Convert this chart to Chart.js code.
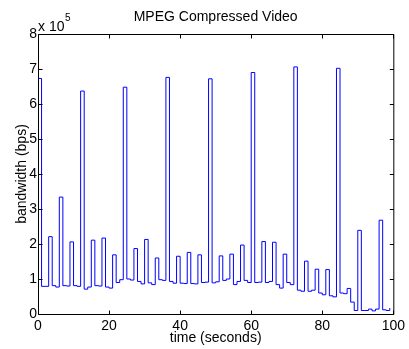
<!DOCTYPE html>
<html>
<head>
<meta charset="utf-8">
<script src="https://cdn.jsdelivr.net/npm/chart.js@4/dist/chart.umd.min.js"></script>
<style>
  html, body { margin: 0; padding: 0; background: #fff; }
  #wrap { width: 409px; height: 349px; }
</style>
</head>
<body>
<div id="wrap"><canvas id="mpeg-chart" width="409" height="349"></canvas></div>
<script>
// time of each sample (seconds)
var seconds = [
  0, 1, 2, 3, 4, 5, 6, 7, 8, 9,
  10, 11, 12, 13, 14, 15, 16, 17, 18, 19,
  20, 21, 22, 23, 24, 25, 26, 27, 28, 29,
  30, 31, 32, 33, 34, 35, 36, 37, 38, 39,
  40, 41, 42, 43, 44, 45, 46, 47, 48, 49,
  50, 51, 52, 53, 54, 55, 56, 57, 58, 59,
  60, 61, 62, 63, 64, 65, 66, 67, 68, 69,
  70, 71, 72, 73, 74, 75, 76, 77, 78, 79,
  80, 81, 82, 83, 84, 85, 86, 87, 88, 89,
  90, 91, 92, 93, 94, 95, 96, 97, 98, 99
];

// bandwidth in bps
var bandwidth = [
  673000, 79000, 79000, 221000, 81000, 77000, 334000, 81000, 80000, 206000,
  81000, 79000, 637000, 71000, 77000, 211000, 81000, 80000, 217000, 77000,
  74000, 169000, 90000, 98000, 648000, 100000, 97000, 187000, 93000, 86000,
  213000, 89000, 84000, 160000, 98000, 96000, 676000, 93000, 88000, 165000,
  88000, 87000, 176000, 87000, 86000, 169000, 90000, 91000, 672000, 89000,
  92000, 166000, 96000, 100000, 171000, 84000, 93000, 197000, 96000, 90000,
  690000, 90000, 91000, 207000, 90000, 93000, 205000, 84000, 74000, 171000,
  90000, 84000, 706000, 68000, 65000, 151000, 65000, 68000, 128000, 60000,
  55000, 127000, 52000, 49000, 702000, 60000, 58000, 73000, 34000, 10000,
  239000, 10000, 10000, 14000, 9000, 14000, 268000, 12000, 10000, 17000
];

var xTicks = [0, 20, 40, 60, 80, 100];
var yTicks = [0, 100000, 200000, 300000, 400000, 500000, 600000, 700000, 800000];

Chart.defaults.font.family = "'Liberation Sans', Arial, sans-serif";
Chart.defaults.color = "#000";

var points = [];
for (var i = 0; i < seconds.length; i++) {
    points.push({x: seconds[i], y: bandwidth[i]});
}

// box round the axes, inward ticks on all 4 sides, and the x 10^5 mark
var matlabBox = {
    id: 'matlabBox',
    afterDraw: function(chart) {
        var ctx = chart.ctx;
        var a = chart.chartArea;
        var xs = chart.scales.x, ys = chart.scales.y;
        var L = a.left + 0.5, R = a.right + 0.5, T = a.top + 0.5, B = a.bottom + 0.5;
        var len = 4;
        ctx.save();
        ctx.strokeStyle = "#000";
        ctx.lineWidth = 1;
        ctx.beginPath();
        ctx.rect(L, T, R - L, B - T);
        xTicks.forEach(function(v) {
            var px = Math.round(xs.getPixelForValue(v)) + 0.5;
            ctx.moveTo(px, B); ctx.lineTo(px, B - len);
            ctx.moveTo(px, T); ctx.lineTo(px, T + len);
        });
        yTicks.forEach(function(v) {
            var py = Math.round(ys.getPixelForValue(v)) + 0.5;
            ctx.moveTo(L, py); ctx.lineTo(L + len, py);
            ctx.moveTo(R, py); ctx.lineTo(R - len, py);
        });
        ctx.stroke();

        ctx.fillStyle = "#000";
        ctx.textAlign = "left";
        ctx.textBaseline = "alphabetic";
        ctx.font = "14px 'Liberation Sans', Arial, sans-serif";
        var base = "x 10";
        ctx.fillText(base, a.left, 31);
        var w = ctx.measureText(base).width;
        ctx.font = "10px 'Liberation Sans', Arial, sans-serif";
        ctx.fillText("5", a.left + w + 0.5, 21);
        ctx.restore();
    }
};

var config = {
    type: 'line',
    data: {
        datasets: [{
            data: points,
            borderColor: "#0000ff",
            borderWidth: 1,
            pointRadius: 0,
            stepped: true,
            fill: false,
            tension: 0
        }]
    },
    options: {
        responsive: false,
        animation: false,
        devicePixelRatio: 1,
        layout: { padding: { left: 0, right: 14, top: 0, bottom: 0 } },
        plugins: {
            legend: { display: false },
            tooltip: { enabled: false },
            title: {
                display: true,
                text: 'MPEG Compressed Video',
                fullSize: false,
                font: { size: 14, weight: 'normal' },
                color: "#000",
                padding: { top: 9, bottom: 8.2 }
            }
        },
        scales: {
            x: {
                type: 'linear',
                min: 0,
                max: 100,
                grid: { display: false, drawTicks: false, tickLength: 0 },
                border: { display: false },
                ticks: { stepSize: 20, padding: 4, font: { size: 14 }, maxRotation: 0 },
                title: { display: true, text: 'time (seconds)', font: { size: 14 }, padding: { top: 0, bottom: 2 } },
                afterFit: function(scale) { scale.height = 35; }
            },
            y: {
                type: 'linear',
                min: 0,
                max: 800000,
                grid: { display: false, drawTicks: false, tickLength: 0 },
                border: { display: false },
                ticks: {
                    stepSize: 100000,
                    padding: 1,
                    font: { size: 14 },
                    callback: function(v) { return v / 100000; }
                },
                title: { display: true, text: 'bandwidth (bps)', font: { size: 14 }, padding: { top: 14, bottom: 0 } },
                afterFit: function(scale) { scale.width = 38; }
            }
        }
    },
    plugins: [matlabBox]
};

var mpegChart = new Chart(document.getElementById('mpeg-chart'), config);
</script>
</body>
</html>
